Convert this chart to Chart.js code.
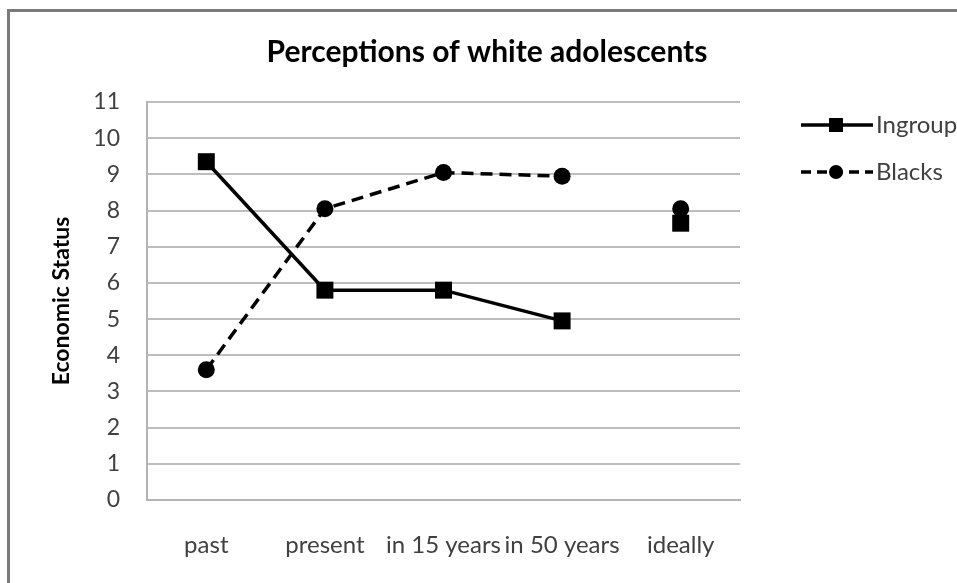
<!DOCTYPE html>
<html>
<head>
<meta charset="utf-8">
<script src="https://cdn.jsdelivr.net/npm/chart.js@4.4.1/dist/chart.umd.min.js"></script>
<style>
html,body{margin:0;padding:0;background:#fff;}
#wrap{position:relative;width:957px;height:583px;}
</style>
</head>
<body>
<div id="wrap"><canvas id="c" width="957" height="583"></canvas></div>
<script>
const categories = ["past", "present", "in 15 years", "in 50 years", "ideally"];
const ingroup = [9.35, 5.8, 5.8, 4.95, 7.65];
const blacks = [3.6, 8.05, 9.05, 8.95, 8.05];
const yTicks = [0,1,2,3,4,5,6,7,8,9,10,11];
const chartTitle = "Perceptions of white adolescents";
const yTitle = "Economic Status";
const seriesNames = ["Ingroup", "Blacks"];

const FONT = "Lato, 'Open Sans', sans-serif";
const TXT = '#404040';

// hide the segment leading to the "ideally" point (shown unconnected)
const hideLast = ctx => ctx.p1DataIndex === categories.length - 1 ? 'rgba(0,0,0,0)' : '#000';

const framePlugin = {
  id: 'frame',
  beforeDraw(chart) {
    const c = chart.ctx;
    c.save();
    c.fillStyle = '#fff';
    c.fillRect(0, 0, chart.width, chart.height);
    c.strokeStyle = '#7a7a7a';
    c.lineWidth = 3;
    c.beginPath();
    c.moveTo(8.5, chart.height);
    c.lineTo(8.5, 10.5);
    c.lineTo(chart.width, 10.5);
    c.stroke();
    c.restore();
  },
  afterDraw(chart) {
    const c = chart.ctx;
    c.save();
    // title
    c.fillStyle = '#000';
    c.font = "bold 30px " + FONT;
    c.textAlign = 'center';
    c.textBaseline = 'middle';
    c.fillText(chartTitle, 487, 52);
    // legend
    const items = [
      {name: seriesNames[0], y: 125, dash: [], style: 'rect'},
      {name: seriesNames[1], y: 172, dash: [10, 6], style: 'circle'}
    ];
    items.forEach(it => {
      c.strokeStyle = '#000';
      c.lineWidth = 3.5;
      c.setLineDash(it.dash);
      c.beginPath();
      c.moveTo(801, it.y);
      c.lineTo(873, it.y);
      c.stroke();
      c.setLineDash([]);
      c.fillStyle = '#000';
      if (it.style === 'rect') {
        c.fillRect(836 - 7, it.y - 7, 14, 14);
      } else {
        c.beginPath();
        c.arc(836, it.y, 7, 0, Math.PI * 2);
        c.fill();
      }
      c.fillStyle = TXT;
      c.font = "24px " + FONT;
      c.textAlign = 'left';
      c.textBaseline = 'middle';
      c.fillText(it.name, 876, it.y);
    });
    c.restore();
  }
};

new Chart(document.getElementById('c'), {
  type: 'line',
  data: {
    labels: categories,
    datasets: [
      {
        label: seriesNames[0],
        data: ingroup,
        borderColor: '#000',
        backgroundColor: '#000',
        borderWidth: 3.5,
        pointStyle: 'rect',
        pointRadius: 12,
        pointBorderWidth: 0,
        tension: 0,
        segment: { borderColor: hideLast }
      },
      {
        label: seriesNames[1],
        data: blacks,
        borderColor: '#000',
        backgroundColor: '#000',
        borderWidth: 3.5,
        borderDash: [12, 7],
        pointStyle: 'circle',
        pointRadius: 8.5,
        pointBorderWidth: 0,
        tension: 0,
        segment: { borderColor: hideLast }
      }
    ]
  },
  options: {
    responsive: false,
    animation: false,
    events: [],
    layout: { padding: { left: 45, right: 217, top: 102, bottom: 0 } },
    plugins: {
      legend: { display: false },
      title: { display: false },
      tooltip: { enabled: false }
    },
    scales: {
      x: {
        offset: true,
        grid: { display: false, drawTicks: false },
        border: { display: true, color: '#b4b4b4', width: 2 },
        ticks: { color: TXT, font: { family: FONT, size: 24 }, padding: 31, maxRotation: 0, autoSkip: false },
        afterFit(scale) { scale.height = 83; }
      },
      y: {
        min: 0,
        max: 11,
        afterBuildTicks(scale) { scale.ticks = yTicks.map(v => ({ value: v })); },
        grid: { color: '#bdbdbd', lineWidth: 2, drawTicks: false },
        border: { display: true, color: '#b4b4b4', width: 2 },
        ticks: { color: TXT, font: { family: FONT, size: 23 }, padding: 27 },
        title: { display: true, text: yTitle, color: '#000', font: { family: FONT, size: 23, weight: 'bold' }, padding: { top: 3, bottom: 0 } },
        afterFit(scale) { scale.width = 102; }
      }
    }
  },
  plugins: [framePlugin]
});
</script>
</body>
</html>
